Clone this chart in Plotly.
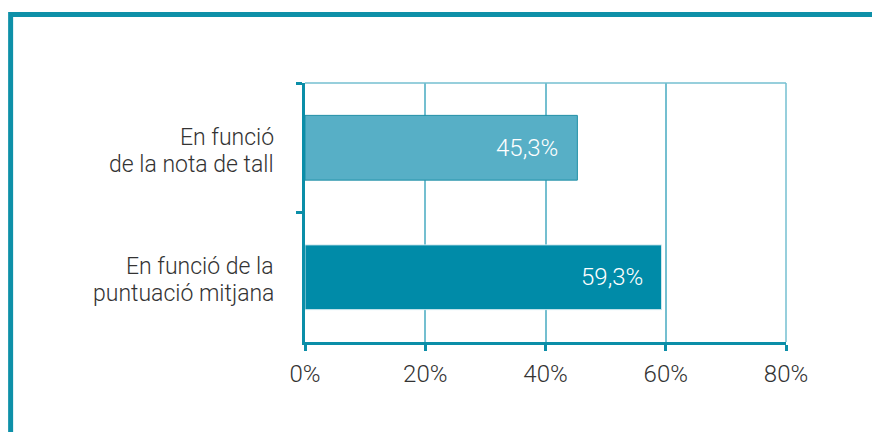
import plotly.graph_objects as go

categories = ["En funció<br>de la nota de tall", "En funció de la<br>puntuació mitjana"]
values = [45.3, 59.3]
bar_colors = ["#57afc6", "#008ba8"]
bar_edges = ["#1f8fa6", "#cfe8ee"]
x_ticks = [0, 20, 40, 60, 80]
x_tick_labels = ["0%", "20%", "40%", "60%", "80%"]

FONT = "Roboto"
TXT = "#333333"
DARK = "#0b8ea8"
LIGHT = "#74bfd0"
FS_CAT = 23
FS_NUM = 24

fig = go.Figure()
fig.add_trace(go.Bar(
    x=values, y=categories, orientation="h",
    marker=dict(color=bar_colors, line=dict(color=bar_edges, width=1)),
    hoverinfo="skip", showlegend=False,
))

annotations = []
for cat, v in zip(categories, values):
    annotations.append(dict(
        x=v, y=cat, xref="x", yref="y", xanchor="right", yanchor="middle",
        xshift=-17, showarrow=False,
        text=f"{v:.1f}".replace(".", ",") + "%",
        font=dict(family=FONT, size=FS_NUM, color="white", weight=300),
    ))
    lines = cat.split("<br>")
    for i, ln in enumerate(lines):
        annotations.append(dict(
            x=0, y=cat, xref="paper", yref="y", xanchor="right", yanchor="middle",
            xshift=-29, yshift=(10.5 if i == 0 else -16.5), showarrow=False,
            text=ln, align="right",
            font=dict(family=FONT, size=FS_CAT, color=TXT, weight=300),
        ))

shapes = [
    # plot top and right borders (light)
    dict(type="line", xref="paper", yref="paper", x0=0, x1=1, y0=1, y1=1,
         line=dict(color=LIGHT, width=1.5), layer="below"),
    dict(type="line", xref="paper", yref="paper", x0=1, x1=1, y0=0, y1=1,
         line=dict(color=LIGHT, width=1.5), layer="below"),
    # outer frame
    dict(type="line", xref="paper", yref="paper", x0=-0.612, x1=1.3, y0=1.2645, y1=1.2645,
         line=dict(color="#0e90a8", width=5)),
    dict(type="line", xref="paper", yref="paper", x0=-0.612, x1=-0.612, y0=1.274, y1=-0.45,
         line=dict(color="#0e90a8", width=5)),
]

fig.update_layout(
    width=880, height=432,
    margin=dict(l=297, r=101.5, t=75, b=98.3),
    paper_bgcolor="white", plot_bgcolor="white",
    bargap=0.5,
    annotations=annotations,
    shapes=shapes,
    font=dict(family=FONT, size=FS_CAT, color=TXT, weight=300),
    xaxis=dict(
        range=[0, 80], tickvals=x_ticks, ticktext=x_tick_labels,
        showgrid=True, gridcolor=LIGHT, gridwidth=1.5,
        showline=True, linecolor=DARK, linewidth=2.5,
        ticks="outside", ticklen=6, tickwidth=2.5, tickcolor=DARK,
        tickfont=dict(family=FONT, size=FS_NUM, color=TXT, weight=300),
        ticklabelstandoff=2,
        zeroline=False, fixedrange=True,
    ),
    yaxis=dict(
        autorange="reversed", showticklabels=False,
        showgrid=False, zeroline=False,
        showline=True, linecolor=DARK, linewidth=2.5,
        ticks="outside", tickson="boundaries", ticklen=6, tickwidth=2.5, tickcolor=DARK,
        fixedrange=True,
    ),
)

fig.write_html("out.html", config={"displayModeBar": False})
